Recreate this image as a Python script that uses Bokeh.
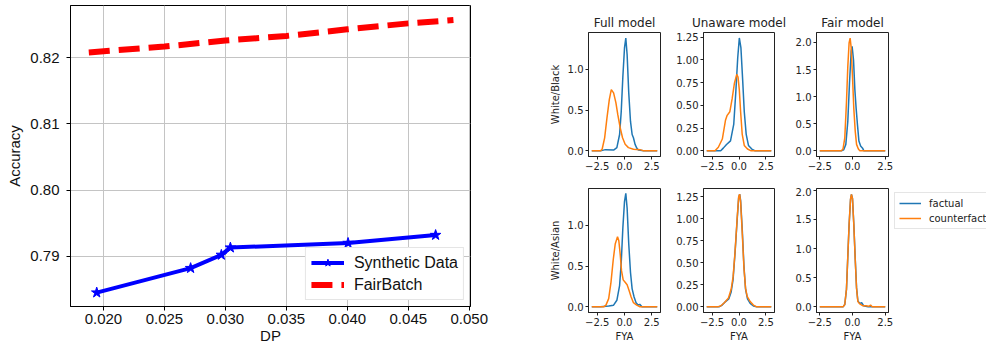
from bokeh.plotting import figure
from bokeh.layouts import row, column
from bokeh.models import FixedTicker, Legend, LegendItem, Range1d, PrintfTickFormatter
from bokeh.embed import file_html
from bokeh.resources import INLINE

# ---------------- left panel data ----------------
dp_synth = [0.01945, 0.02715, 0.02967, 0.03041, 0.04006, 0.04724]
acc_synth = [0.7845, 0.7882, 0.7902, 0.7913, 0.7920, 0.7932]
dp_fairbatch = [0.0188, 0.025, 0.030, 0.035, 0.040, 0.045, 0.0487]
acc_fairbatch = [0.8208, 0.8217, 0.8226, 0.8233, 0.8243, 0.8252, 0.8257]
dp_ticks = [0.020, 0.025, 0.030, 0.035, 0.040, 0.045, 0.050]
acc_ticks = [0.79, 0.80, 0.81, 0.82]

# ---------------- right panel data (densities of FYA) ----------------
full_wb_fact_x = [-3.0, -2.2, -1.75, -1.0, -0.70, -0.45, -0.30, -0.15, 0.0, 0.12, 0.24, 0.39, 0.55, 0.70, 0.82, 0.97, 1.12, 1.27, 1.75, 3.0]
full_wb_fact_y = [0.0, 0.0, 0.015, 0.01, 0.04, 0.20, 0.48, 0.91, 1.26, 1.38, 1.18, 0.71, 0.36, 0.20, 0.16, 0.08, 0.035, 0.01, 0.0, 0.0]
full_wb_cf_x = [-3.0, -2.2, -2.05, -1.82, -1.61, -1.39, -1.21, -1.0, -0.79, -0.61, -0.39, -0.18, 0.06, 0.36, 0.82, 1.42, 1.75, 3.0]
full_wb_cf_y = [0.0, 0.0, 0.02, 0.16, 0.40, 0.63, 0.75, 0.71, 0.59, 0.44, 0.28, 0.16, 0.08, 0.04, 0.02, 0.015, 0.0, 0.0]

unaware_wb_fact_x = [-3.0, -1.7, -1.46, -1.16, -0.79, -0.49, -0.30, -0.12, 0.03, 0.18, 0.34, 0.49, 0.67, 0.88, 1.19, 1.5, 3.0]
unaware_wb_fact_y = [0.0, 0.0, 0.03, 0.07, 0.11, 0.29, 0.64, 1.02, 1.24, 1.13, 0.78, 0.43, 0.18, 0.06, 0.02, 0.0, 0.0]
unaware_wb_cf_x = [-3.0, -2.23, -1.92, -1.55, -1.25, -1.10, -0.85, -0.64, -0.43, -0.21, -0.09, 0.03, 0.15, 0.30, 0.49, 0.79, 1.13, 3.0]
unaware_wb_cf_y = [0.0, 0.0, 0.04, 0.13, 0.34, 0.39, 0.43, 0.57, 0.74, 0.84, 0.81, 0.67, 0.43, 0.18, 0.06, 0.02, 0.0, 0.0]

fair_wb_fact_x = [-2.5, -0.85, -0.67, -0.51, -0.36, -0.23, -0.10, -0.03, 0.08, 0.18, 0.28, 0.38, 0.49, 0.62, 0.77, 0.87, 2.5]
fair_wb_fact_y = [0.0, 0.0, 0.02, 0.12, 0.54, 1.25, 1.84, 1.93, 1.67, 1.13, 0.78, 0.48, 0.18, 0.09, 0.05, 0.0, 0.0]
fair_wb_cf_x = [-2.5, -0.85, -0.72, -0.59, -0.46, -0.36, -0.26, -0.18, -0.10, 0.0, 0.10, 0.21, 0.31, 0.44, 0.56, 2.5]
fair_wb_cf_y = [0.0, 0.0, 0.04, 0.24, 0.90, 1.55, 1.99, 2.08, 1.90, 1.37, 0.78, 0.36, 0.12, 0.04, 0.0, 0.0]

full_wa_fact_x = [-3.0, -2.2, -1.45, -1.0, -0.70, -0.45, -0.30, -0.15, 0.0, 0.12, 0.24, 0.39, 0.55, 0.70, 0.88, 1.06, 1.27, 1.4, 1.6, 3.0]
full_wa_fact_y = [0.0, 0.0, 0.01, 0.02, 0.08, 0.26, 0.54, 0.97, 1.29, 1.39, 1.21, 0.77, 0.42, 0.22, 0.12, 0.05, 0.02, 0.03, 0.0, 0.0]
full_wa_cf_x = [-3.0, -1.91, -1.70, -1.45, -1.24, -1.03, -0.85, -0.64, -0.52, -0.39, -0.27, -0.12, 0.06, 0.24, 0.42, 0.61, 0.82, 1.12, 1.42, 3.0]
full_wa_cf_y = [0.0, 0.0, 0.02, 0.10, 0.30, 0.58, 0.77, 0.86, 0.81, 0.64, 0.44, 0.33, 0.30, 0.27, 0.20, 0.12, 0.05, 0.02, 0.0, 0.0]

unaware_wa_fact_x = [-3.0, -1.86, -1.56, -1.25, -0.95, -0.73, -0.55, -0.37, -0.18, -0.03, 0.06, 0.15, 0.31, 0.46, 0.61, 0.79, 1.04, 1.34, 1.65, 3.0]
unaware_wa_fact_y = [0.0, 0.0, 0.02, 0.06, 0.09, 0.17, 0.31, 0.61, 0.97, 1.24, 1.28, 1.21, 0.86, 0.46, 0.20, 0.09, 0.04, 0.01, 0.0, 0.0]
unaware_wa_cf_x = [-3.0, -2.0, -1.71, -1.34, -0.98, -0.73, -0.55, -0.37, -0.18, -0.03, 0.06, 0.15, 0.31, 0.46, 0.61, 0.76, 1.04, 1.34, 1.65, 3.0]
unaware_wa_cf_y = [0.0, 0.0, 0.01, 0.05, 0.10, 0.20, 0.34, 0.62, 0.99, 1.25, 1.28, 1.19, 0.82, 0.44, 0.21, 0.12, 0.06, 0.02, 0.0, 0.0]

fair_wa_fact_x = [-2.5, -0.72, -0.59, -0.46, -0.36, -0.26, -0.15, -0.08, 0.0, 0.10, 0.21, 0.31, 0.41, 0.56, 0.70, 0.85, 1.0, 1.2, 2.5]
fair_wa_fact_y = [0.0, 0.0, 0.04, 0.30, 0.85, 1.40, 1.84, 1.93, 1.86, 1.42, 0.82, 0.33, 0.10, 0.06, 0.07, 0.02, 0.01, 0.0, 0.0]
fair_wa_cf_x = [-2.5, -0.72, -0.59, -0.46, -0.36, -0.26, -0.15, -0.08, 0.0, 0.10, 0.21, 0.31, 0.41, 0.56, 0.77, 1.03, 1.25, 1.38, 1.5, 2.5]
fair_wa_cf_y = [0.0, 0.0, 0.04, 0.31, 0.86, 1.41, 1.85, 1.93, 1.85, 1.41, 0.80, 0.31, 0.09, 0.05, 0.02, 0.02, 0.01, 0.03, 0.0, 0.0]

model_titles = ["Full model", "Unaware model", "Fair model"]
row_labels = ["White/Black", "White/Asian"]
fya_ticks = [-2.5, 0.0, 2.5]
fya_tick_labels = ["\u22122.5", "0.0", "2.5"]
legend_labels = ["factual", "counterfactual"]

BLUE = "#1f77b4"
ORANGE = "#ff7f0e"
LFONT = "Liberation Sans"
RFONT = "DejaVu Sans"

# ---------------- left figure ----------------
p = figure(width=540, height=346, x_range=Range1d(0.0173, 0.0501), y_range=Range1d(0.7824, 0.8279),
           output_backend="svg", toolbar_location=None,
           min_border_left=70, min_border_right=70, min_border_top=5, min_border_bottom=0)
p.outline_line_color = "black"
p.outline_line_width = 1
p.outline_line_alpha = 1
p.background_fill_color = "white"
p.border_fill_color = "white"
for ax in (p.xaxis[0], p.yaxis[0]):
    ax.major_label_text_font = LFONT
    ax.major_label_text_font_size = "15px"
    ax.major_label_text_color = "#111111"
    ax.axis_label_text_font = LFONT
    ax.axis_label_text_font_size = "15px"
    ax.axis_label_text_font_style = "normal"
    ax.axis_label_text_color = "#111111"
    ax.axis_line_color = "black"
    ax.major_tick_line_color = "black"
    ax.major_tick_out = 4
    ax.major_tick_in = 0
    ax.minor_tick_line_color = None
p.xaxis.ticker = FixedTicker(ticks=dp_ticks)
p.xaxis.formatter = PrintfTickFormatter(format="%.3f")
p.yaxis.ticker = FixedTicker(ticks=acc_ticks)
p.yaxis.formatter = PrintfTickFormatter(format="%.2f")
p.xaxis.axis_label = "DP"
p.yaxis.axis_label = "Accuracy"
p.xaxis.major_label_standoff = 3
p.xaxis.axis_label_standoff = 0
p.yaxis.major_label_standoff = 7
p.yaxis.axis_label_standoff = 4
p.xgrid.grid_line_color = "#c4c4c4"
p.ygrid.grid_line_color = "#c4c4c4"
p.xgrid.grid_line_width = 1
p.ygrid.grid_line_width = 1

r_line = p.line(dp_synth, acc_synth, line_color="blue", line_width=4)
r_star = p.scatter(dp_synth, acc_synth, marker="star", size=11, fill_color="blue", line_color="blue")
r_fb = p.line(dp_fairbatch, acc_fairbatch, line_color="red", line_width=6, line_dash="21 9")
leg = Legend(items=[LegendItem(label="Synthetic Data", renderers=[r_line, r_star]),
                    LegendItem(label="FairBatch", renderers=[r_fb])],
             location="bottom_right", margin=6, padding=5, spacing=3,
             glyph_width=33, glyph_height=19, label_height=19, label_standoff=10,
             label_text_font=LFONT, label_text_font_size="16px", label_text_color="#111111",
             border_line_color="#cccccc", border_line_width=1, background_fill_alpha=1)
p.add_layout(leg)

# ---------------- right small multiples ----------------
col_specs = [  # width, min_border_left, min_border_right, x range
    (128, 48, 8, (-3.3, 3.3)),
    (122, 35, 16, (-3.3, 3.3)),
    (104, 26, 6, (-2.75, 2.75)),
]
row_specs = [  # height, min_border_top, min_border_bottom
    (187, 32, 31),
    (159, 1, 34),
]
y_ranges = [
    [(-0.069, 1.449), (-0.062, 1.30), (-0.104, 2.184)],
    [(-0.07, 1.45), (-0.064, 1.344), (-0.0965, 2.03)],
]
y_ticks = [[0.0, 0.5, 1.0], [0.0, 0.25, 0.5, 0.75, 1.0, 1.25], [0.0, 0.5, 1.0, 1.5, 2.0]]
y_fmt = ["%.1f", "%.2f", "%.1f"]
curves = [
    [(full_wb_fact_x, full_wb_fact_y, full_wb_cf_x, full_wb_cf_y),
     (unaware_wb_fact_x, unaware_wb_fact_y, unaware_wb_cf_x, unaware_wb_cf_y),
     (fair_wb_fact_x, fair_wb_fact_y, fair_wb_cf_x, fair_wb_cf_y)],
    [(full_wa_fact_x, full_wa_fact_y, full_wa_cf_x, full_wa_cf_y),
     (unaware_wa_fact_x, unaware_wa_fact_y, unaware_wa_cf_x, unaware_wa_cf_y),
     (fair_wa_fact_x, fair_wa_fact_y, fair_wa_cf_x, fair_wa_cf_y)],
]

rows = []
for ri, (h, mbt, mbb) in enumerate(row_specs):
    figs = []
    for ci, (w, mbl, mbr, xr) in enumerate(col_specs):
        f = figure(width=w, height=h, x_range=Range1d(*xr), y_range=Range1d(*y_ranges[ri][ci]),
                   output_backend="svg", toolbar_location=None,
                   min_border_left=mbl, min_border_right=mbr, min_border_top=mbt, min_border_bottom=mbb)
        if ri == 0:
            f.title.text = model_titles[ci]
            f.title.text_font = RFONT
            f.title.text_font_size = "12px"
            f.title.text_font_style = "normal"
            f.title.text_color = "#222222"
            f.title.align = "center"
            f.title.standoff = 5
        f.outline_line_color = "#222222"
        f.outline_line_width = 1
        f.outline_line_alpha = 1
        f.xgrid.visible = False
        f.ygrid.visible = False
        for ax in (f.xaxis[0], f.yaxis[0]):
            ax.major_label_text_font = RFONT
            ax.major_label_text_font_size = "10px"
            ax.major_label_text_color = "#222222"
            ax.axis_label_text_font = RFONT
            ax.axis_label_text_font_size = "10px"
            ax.axis_label_text_font_style = "normal"
            ax.axis_label_text_color = "#222222"
            ax.axis_line_color = "#222222"
            ax.major_tick_line_color = "#222222"
            ax.major_tick_out = 3
            ax.major_tick_in = 0
            ax.minor_tick_line_color = None
            ax.major_label_standoff = 2
        f.xaxis.ticker = FixedTicker(ticks=fya_ticks)
        f.xaxis.major_label_overrides = {t: s for t, s in zip(fya_ticks, fya_tick_labels)}
        f.yaxis.ticker = FixedTicker(ticks=y_ticks[ci])
        f.yaxis.formatter = PrintfTickFormatter(format=y_fmt[ci])
        if ci == 0:
            f.yaxis.axis_label = row_labels[ri]
            f.yaxis.axis_label_standoff = 4
        if ri == 1:
            f.xaxis.axis_label = "FYA"
            f.xaxis.axis_label_standoff = 2
        fx, fy, cx, cy = curves[ri][ci]
        f.line(fx, fy, line_color=BLUE, line_width=1.5)
        f.line(cx, cy, line_color=ORANGE, line_width=1.5)
        figs.append(f)
    rows.append(row(*figs))

# ---------------- legend strip for the small multiples ----------------
lf = figure(width=92, height=346, x_range=Range1d(0, 1), y_range=Range1d(0, 1),
            x_axis_type=None, y_axis_type=None, output_backend="svg", toolbar_location=None,
            min_border_left=0, min_border_right=0, min_border_top=0, min_border_bottom=0)
lf.outline_line_color = None
lf.xgrid.visible = False
lf.ygrid.visible = False
# proxy lines kept outside the visible range: they only feed the legend swatches
lb = lf.line(x=[-2, -1], y=[-2, -2], line_color=BLUE, line_width=1.5)
lo = lf.line(x=[-2, -1], y=[-3, -3], line_color=ORANGE, line_width=1.5)
lg = Legend(items=[LegendItem(label=legend_labels[0], renderers=[lb]),
                   LegendItem(label=legend_labels[1], renderers=[lo])],
            location=(0, 77), margin=0, padding=4, spacing=3,
            glyph_width=22, glyph_height=12, label_height=12, label_standoff=8,
            label_text_font=RFONT, label_text_font_size="10px", label_text_color="#222222",
            border_line_color="#cccccc", border_line_width=1, background_fill_alpha=1)
lf.add_layout(lg)

right = column(*rows)
layout = row(p, right, lf)

open("out.html", "w").write(file_html(layout, INLINE))
